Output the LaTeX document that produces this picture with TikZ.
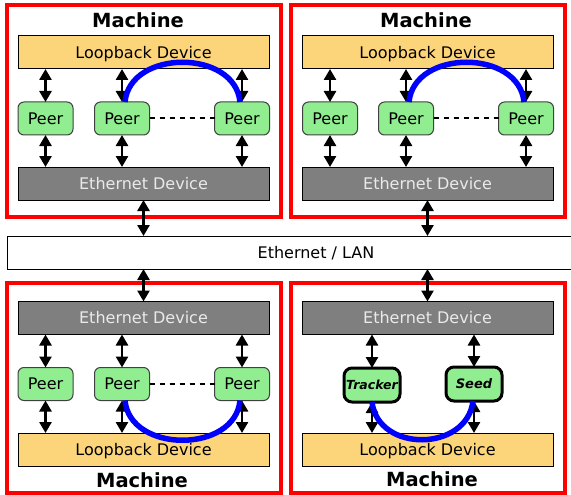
\documentclass[tikz,border=0pt]{standalone}
\usepackage{fontspec}
\setmainfont{DejaVu Sans}
\usetikzlibrary{arrows.meta,calc}
\definecolor{loopcol}{HTML}{FCD57A}
\definecolor{peercol}{HTML}{90EE90}
\definecolor{ethcol}{HTML}{7F7F7F}
\definecolor{ethtxt}{HTML}{EAEAEA}
\tikzset{
  machinebox/.style={draw=red,line width=3.5pt,minimum width=274pt,inner sep=0pt,outer sep=0pt},
  title/.style={font=\fontsize{19.5}{22}\selectfont\bfseries,inner sep=0pt},
  caps/.style={text height=11.7pt,text depth=0pt},
  dev/.style={caps,minimum width=251pt,minimum height=33pt,inner sep=0pt,outer sep=0pt,line width=1pt,font=\fontsize{16}{18}\selectfont},
  loopback/.style={dev,draw=black,fill=loopcol,text=black},
  ethdev/.style={dev,draw=black,fill=ethcol,text=ethtxt},
  peer/.style={caps,draw=black!75,line width=1pt,fill=peercol,rounded corners=6pt,minimum width=55pt,minimum height=33pt,inner sep=0pt,outer sep=0pt,font=\fontsize{16}{18}\selectfont},
  special/.style={text height=9.5pt,text depth=0pt,draw=black,line width=3pt,fill=peercol,rounded corners=8pt,minimum width=56pt,minimum height=34pt,inner sep=0pt,outer sep=0pt},
  dbl/.style={{Triangle[length=11pt,width=12pt]}-{Triangle[length=11pt,width=12pt]},line width=2.6pt,black},
  link/.style={blue,line width=5.5pt},
  dotted link/.style={black,line width=2pt,dash pattern=on 5.5pt off 4.5pt},
}
\begin{document}
\begin{tikzpicture}[x=1pt,y=-1pt]
\useasboundingbox (0,0) rectangle (571,495);
% machine frames
\node[machinebox,minimum height=212pt] (m1) at (144,111) {};
\node[machinebox,minimum height=212pt] (m2) at (428,111) {};
\node[machinebox,minimum height=210pt] (m3) at (144,388) {};
\node[machinebox,minimum height=210pt] (m4) at (428,388) {};
% LAN
\node[caps,draw=black,line width=1pt,fill=white,minimum width=618pt,minimum height=33pt,inner sep=0pt,outer sep=0pt,font=\fontsize{16}{18}\selectfont] (lan) at (316,252.5) {Ethernet / LAN};
% titles
\node[title] (t1) at (138,20) {Machine};
\node[title] (t2) at (426,20) {Machine};
\node[title] (t3) at (142,480) {Machine};
\node[title] (t4) at (432,479) {Machine};
% top-left machine
\node[loopback] (lo1) at (143.5,52.5) {Loopback Device};
\node[ethdev] (eth1) at (143.5,183.5) {Ethernet Device};
\node[peer] (p11) at (45.5,118.5) {Peer};
\node[peer] (p12) at (122,118.5) {Peer};
\node[peer] (p13) at (242,118.5) {Peer};
% top-right machine
\node[loopback] (lo2) at (427.5,52.5) {Loopback Device};
\node[ethdev] (eth2) at (427.5,183.5) {Ethernet Device};
\node[peer] (p21) at (330,118.5) {Peer};
\node[peer] (p22) at (406,118.5) {Peer};
\node[peer] (p23) at (526,118.5) {Peer};
% bottom-left machine
\node[ethdev] (eth3) at (143.5,318) {Ethernet Device};
\node[loopback] (lo3) at (143.5,449.5) {Loopback Device};
\node[peer] (p31) at (45.5,384) {Peer};
\node[peer] (p32) at (122,384) {Peer};
\node[peer] (p33) at (242,384) {Peer};
% bottom-right machine
\node[ethdev] (eth4) at (427.5,318) {Ethernet Device};
\node[loopback] (lo4) at (427.5,449.5) {Loopback Device};
\node[special,font=\fontsize{12.5}{14}\selectfont\bfseries\itshape] (tr) at (372,385) {Tracker};
\node[special,font=\fontsize{13}{14}\selectfont\bfseries\itshape] (sd) at (474,384) {Seed};
% peer arrows (top machines)
\foreach \p/\l/\e in {p11/lo1/eth1,p12/lo1/eth1,p13/lo1/eth1,p21/lo2/eth2,p22/lo2/eth2,p23/lo2/eth2}{
  \draw[dbl] (\l.south -| \p.north) -- (\p.north);
  \draw[dbl] (\p.south) -- (\e.north -| \p.south);
}
% peer arrows (bottom machines)
\foreach \p/\l/\e in {p31/lo3/eth3,p32/lo3/eth3,p33/lo3/eth3,tr/lo4/eth4,sd/lo4/eth4}{
  \draw[dbl] (\e.south -| \p.north) -- (\p.north);
  \draw[dbl] (\p.south) -- (\l.north -| \p.south);
}
% LAN arrows
\draw[dbl] (eth1.south) -- (eth1.south |- lan.north);
\draw[dbl] (eth2.south) -- (eth2.south |- lan.north);
\draw[dbl] (lan.south -| eth3.north) -- (eth3.north);
\draw[dbl] (lan.south -| eth4.north) -- (eth4.north);
% dashed links
\draw[dotted link] (p12.east) -- (p13.west);
\draw[dotted link] (p22.east) -- (p23.west);
\draw[dotted link] (p32.east) -- (p33.west);
% loopback links
\draw[link] ([xshift=3pt]p12.north) .. controls +(5,-53) and +(-5,-53) .. ([xshift=-2pt]p13.north);
\draw[link] ([xshift=3pt]p22.north) .. controls +(5,-53) and +(-5,-53) .. ([xshift=-2pt]p23.north);
\draw[link] ([xshift=3pt]p32.south) .. controls +(5,53) and +(-5,53) .. ([xshift=-2pt]p33.south);
\draw[link] (tr.south) .. controls +(6,51) and +(-6,51) .. ([xshift=-1pt]sd.south);
\end{tikzpicture}
\end{document}
